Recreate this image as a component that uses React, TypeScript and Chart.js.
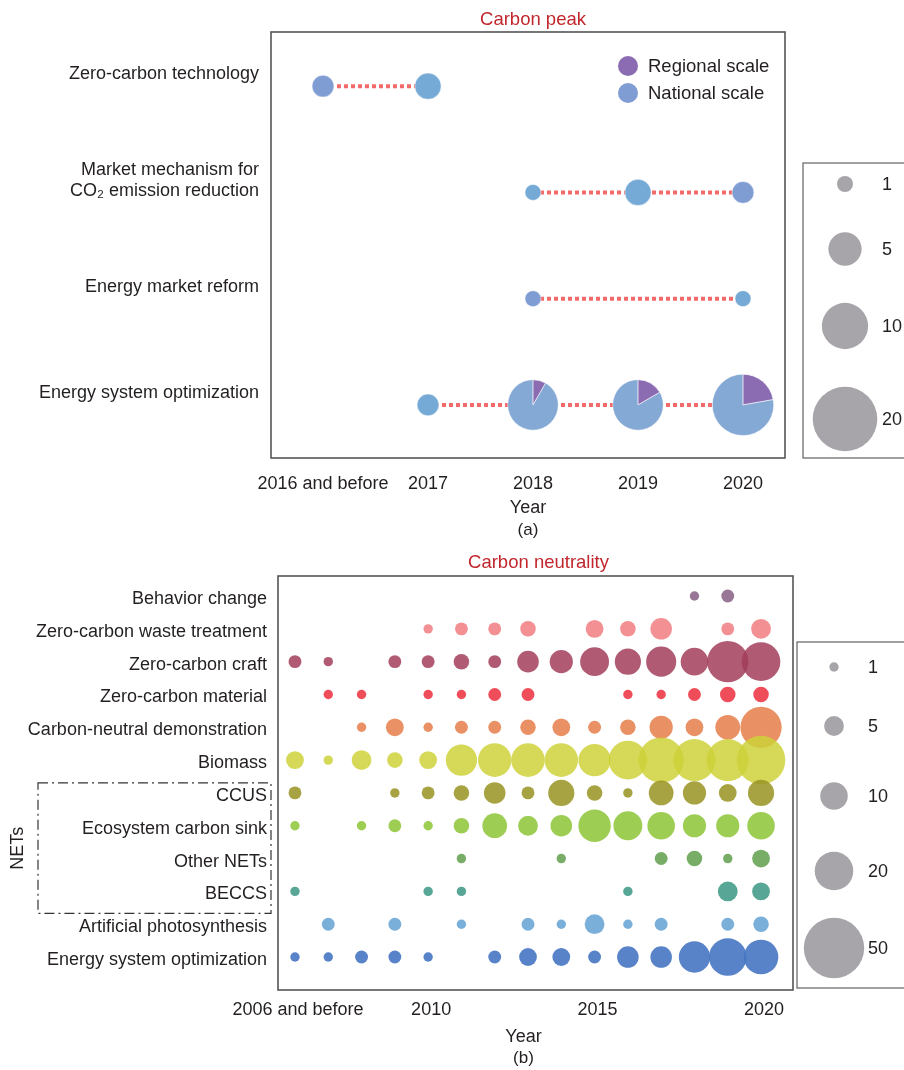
import React, { useEffect, useRef } from 'react';
import { Chart, registerables } from 'chart.js';

Chart.register(...registerables);

const FONT = '"Liberation Sans", Arial, Helvetica, sans-serif';
const TEXT = '#231f20';
const TITLE_RED = '#c1272d';

// ---------- (a) Carbon peak ----------
const PEAK_YEARS = ['2016 and before', '2017', '2018', '2019', '2020'];
const PEAK_ROWS: (string | string[])[] = [
  'Energy system optimization',
  'Energy market reform',
  ['Market mechanism for', 'CO₂ emission reduction'],
  'Zero-carbon technology',
];
// national-scale counts per year (null = none)
const PEAK_OPT_NATIONAL = [null, 2, 11, 10, 14];
const PEAK_REFORM_NATIONAL = [null, null, 1, null, 1];
const PEAK_MARKET_NATIONAL = [null, null, 1, 3, 2];
const PEAK_TECH_NATIONAL = [2, 3, null, null, null];
// regional-scale counts per year
const PEAK_OPT_REGIONAL = [0, 0, 1, 2, 4];
const PEAK_REFORM_REGIONAL = [0, 0, 0, 0, 0];
const PEAK_MARKET_REGIONAL = [0, 0, 0, 0, 0];
const PEAK_TECH_REGIONAL = [0, 0, 0, 0, 0];
const PEAK_SIZE_LEGEND = [1, 5, 10, 20];

// ---------- (b) Carbon neutrality ----------
const NEUTRAL_YEARS = ['2006 and before', '2007', '2008', '2009', '2010', '2011', '2012', '2013', '2014', '2015', '2016', '2017', '2018', '2019', '2020'];
const NEUTRAL_TICK_YEARS = ['2006 and before', '2010', '2015', '2020'];
const NEUTRAL_ROWS = [
  'Energy system optimization',
  'Artificial photosynthesis',
  'BECCS',
  'Other NETs',
  'Ecosystem carbon sink',
  'CCUS',
  'Biomass',
  'Carbon-neutral demonstration',
  'Zero-carbon material',
  'Zero-carbon craft',
  'Zero-carbon waste treatment',
  'Behavior change',
];
const N = null;
const ENERGY_OPT = [1, 1, 2, 2, 1, N, 2, 4, 4, 2, 6, 6, 13, 19, 16];
const ARTIFICIAL = [N, 2, N, 2, N, 1, N, 2, 1, 5, 1, 2, N, 2, 3];
const BECCS = [1, N, N, N, 1, 1, N, N, N, N, 1, N, N, 5, 4];
const OTHER_NETS = [N, N, N, N, N, 1, N, N, 1, N, N, 2, 3, 1, 4];
const ECOSYSTEM = [1, N, 1, 2, 1, 3, 8, 5, 6, 14, 11, 10, 7, 7, 10];
const CCUS = [2, N, N, 1, 2, 3, 6, 2, 9, 3, 1, 8, 7, 4, 9];
const BIOMASS = [4, 1, 5, 3, 4, 13, 15, 15, 15, 14, 20, 28, 24, 24, 32];
const DEMONSTRATION = [N, N, 1, 4, 1, 2, 2, 3, 4, 2, 3, 7, 4, 8, 23];
const MATERIAL = [N, 1, 1, N, 1, 1, 2, 2, N, N, 1, 1, 2, 3, 3];
const CRAFT = [2, 1, N, 2, 2, 3, 2, 6, 7, 11, 9, 12, 10, 23, 20];
const WASTE = [N, N, N, N, 1, 2, 2, 3, N, 4, 3, 6, N, 2, 5];
const BEHAVIOR = [N, N, N, N, N, N, N, N, N, N, N, N, 1, 2, N];
const NEUTRAL_SIZE_LEGEND = [1, 5, 10, 20, 50];

const NEUTRAL_VALUES = [ENERGY_OPT, ARTIFICIAL, BECCS, OTHER_NETS, ECOSYSTEM, CCUS, BIOMASS, DEMONSTRATION, MATERIAL, CRAFT, WASTE, BEHAVIOR];
const NEUTRAL_COLORS = [
  'rgba(70,118,194,0.9)',
  'rgba(108,166,214,0.9)',
  'rgba(70,156,138,0.9)',
  'rgba(104,164,86,0.9)',
  'rgba(145,198,60,0.88)',
  'rgba(156,150,40,0.88)',
  'rgba(206,210,58,0.85)',
  'rgba(230,130,80,0.88)',
  'rgba(238,58,72,0.9)',
  'rgba(162,62,90,0.85)',
  'rgba(242,132,136,0.9)',
  'rgba(140,104,138,0.9)',
];

// styles for panel (a)
const LB = '#76aad6';
const VB = '#7f9dd3';
const PIE = '#84a9d4';
const PURPLE = '#8b6bb1';
const PEAK_COLORS = [
  [LB, LB, PIE, PIE, PIE],
  [LB, LB, VB, LB, LB],
  [LB, LB, LB, LB, VB],
  [VB, LB, LB, LB, LB],
];

const peakRadius = (n: number) => 1 + 7 * Math.sqrt(n);
const neutralRadius = (n: number) => 0.5 + 4.2 * Math.sqrt(n);

const font = (size: number) => ({ family: FONT, size, weight: 'normal' as const });

function drawSizeLegend(ctx: CanvasRenderingContext2D, box: { x: number; y: number; w: number; h: number }, values: number[], radius: (n: number) => number, cx: number, cys: number[], labelX: number) {
  ctx.save();
  ctx.strokeStyle = '#6e6e6e';
  ctx.lineWidth = 1.3;
  ctx.strokeRect(box.x, box.y, box.w, box.h);
  values.forEach((v, i) => {
    ctx.beginPath();
    ctx.arc(cx, cys[i], radius(v), 0, Math.PI * 2);
    ctx.fillStyle = '#a7a5a9';
    ctx.fill();
    ctx.fillStyle = TEXT;
    ctx.font = `18px ${FONT}`;
    ctx.textAlign = 'left';
    ctx.textBaseline = 'middle';
    ctx.fillText(String(v), labelX, cys[i] + 1);
  });
  ctx.restore();
}

const peakPlugin = {
  id: 'peakDecor',
  afterDatasetsDraw(chart: any) {
    const ctx = chart.ctx as CanvasRenderingContext2D;
    chart.data.datasets.forEach((ds: any, di: number) => {
      if (!ds.regionalShare) return;
      const meta = chart.getDatasetMeta(di);
      meta.data.forEach((el: any, j: number) => {
        const f = ds.regionalShare[j];
        if (!f) return;
        const r = el.options.radius;
        ctx.save();
        ctx.beginPath();
        ctx.moveTo(el.x, el.y);
        ctx.arc(el.x, el.y, r, -Math.PI / 2, -Math.PI / 2 + Math.PI * 2 * f);
        ctx.closePath();
        ctx.fillStyle = PURPLE;
        ctx.fill();
        ctx.strokeStyle = 'rgba(255,255,255,0.8)';
        ctx.lineWidth = 1;
        ctx.stroke();
        ctx.restore();
      });
    });
  },
  afterDraw(chart: any) {
    const ctx = chart.ctx as CanvasRenderingContext2D;
    const a = chart.chartArea;
    ctx.save();
    ctx.strokeStyle = '#555';
    ctx.lineWidth = 1.6;
    ctx.strokeRect(a.left, a.top, a.right - a.left, a.bottom - a.top);
    const cx = (a.left + a.right) / 2;
    ctx.textAlign = 'center';
    ctx.textBaseline = 'middle';
    ctx.fillStyle = TITLE_RED;
    ctx.font = `18.5px ${FONT}`;
    ctx.fillText('Carbon peak', cx + 5, a.top - 12);
    ctx.fillStyle = TEXT;
    ctx.font = `18px ${FONT}`;
    ctx.fillText('Year', cx, a.bottom + 50);
    ctx.font = `17px ${FONT}`;
    ctx.fillText('(a)', cx, a.bottom + 72);
    // series legend
    const items: [string, string][] = [['Regional scale', PURPLE], ['National scale', VB]];
    items.forEach(([label, color], i) => {
      const y = a.top + 34 + i * 27;
      ctx.beginPath();
      ctx.arc(a.right - 157, y, 10, 0, Math.PI * 2);
      ctx.fillStyle = color;
      ctx.fill();
      ctx.fillStyle = TEXT;
      ctx.textAlign = 'left';
      ctx.font = `18.5px ${FONT}`;
      ctx.fillText(label, a.right - 137, y + 1);
    });
    ctx.restore();
    drawSizeLegend(ctx, { x: 803, y: 163, w: 130, h: a.bottom - 163 }, PEAK_SIZE_LEGEND, peakRadius, 845, [184, 249, 326, 419], 882);
  },
};

const neutralPlugin = {
  id: 'neutralDecor',
  afterDraw(chart: any) {
    const ctx = chart.ctx as CanvasRenderingContext2D;
    const a = chart.chartArea;
    const ys = chart.scales.y;
    ctx.save();
    ctx.strokeStyle = '#555';
    ctx.lineWidth = 1.6;
    ctx.strokeRect(a.left, a.top, a.right - a.left, a.bottom - a.top);
    const cx = (a.left + a.right) / 2;
    ctx.textAlign = 'center';
    ctx.textBaseline = 'middle';
    ctx.fillStyle = TITLE_RED;
    ctx.font = `18.5px ${FONT}`;
    ctx.fillText('Carbon neutrality', cx + 3, a.top - 13);
    ctx.fillStyle = TEXT;
    ctx.font = `18px ${FONT}`;
    ctx.fillText('Year', cx - 12, a.bottom + 47);
    ctx.font = `17px ${FONT}`;
    ctx.fillText('(b)', cx - 12, a.bottom + 68);
    // NETs group box
    const top = ys.getPixelForValue(5) - 10;
    const bottom = ys.getPixelForValue(2) + 22;
    const left = 38;
    const right = a.left - 7;
    ctx.setLineDash([10, 4, 2, 4]);
    ctx.strokeStyle = '#333';
    ctx.lineWidth = 1.2;
    ctx.strokeRect(left, top, right - left, bottom - top);
    ctx.setLineDash([]);
    ctx.save();
    ctx.translate(18, (top + bottom) / 2);
    ctx.rotate(-Math.PI / 2);
    ctx.font = `18px ${FONT}`;
    ctx.fillStyle = TEXT;
    ctx.fillText('NETs', 0, 0);
    ctx.restore();
    ctx.restore();
    const off = 545;
    drawSizeLegend(ctx, { x: 797, y: 642 - off, w: 130, h: a.bottom - (642 - off) - 2 }, NEUTRAL_SIZE_LEGEND, neutralRadius, 834, [667 - off, 726 - off, 796 - off, 871 - off, 948 - off], 868);
  },
};

function buildPeakDatasets() {
  const nat = [PEAK_OPT_NATIONAL, PEAK_REFORM_NATIONAL, PEAK_MARKET_NATIONAL, PEAK_TECH_NATIONAL];
  const reg = [PEAK_OPT_REGIONAL, PEAK_REFORM_REGIONAL, PEAK_MARKET_REGIONAL, PEAK_TECH_REGIONAL];
  const datasets: any[] = [];
  nat.forEach((row, ri) => {
    const pts: any[] = [];
    const cols: string[] = [];
    const share: number[] = [];
    row.forEach((v, j) => {
      if (v == null) return;
      const total = v + reg[ri][j];
      pts.push({ x: j, y: ri, r: peakRadius(total) });
      cols.push(PEAK_COLORS[ri][j]);
      share.push(reg[ri][j] / total);
    });
    datasets.push({
      type: 'line',
      data: pts.map((p) => ({ x: p.x, y: p.y })),
      borderColor: '#f26a6a',
      borderWidth: 4,
      borderDash: [4, 3],
      pointRadius: 0,
      fill: false,
      order: 2,
    });
    datasets.push({
      type: 'bubble',
      data: pts,
      backgroundColor: cols,
      borderColor: 'rgba(255,255,255,0.6)',
      borderWidth: 0.8,
      regionalShare: share,
      order: 1,
      clip: false,
    });
  });
  return datasets;
}

function buildNeutralDatasets() {
  return NEUTRAL_VALUES.map((row, ri) => ({
    type: 'bubble',
    data: row
      .map((v, j) => (v == null ? null : { x: j, y: ri, r: neutralRadius(v) }))
      .filter((p) => p !== null),
    backgroundColor: NEUTRAL_COLORS[ri],
    borderWidth: 0,
    clip: false,
  }));
}

export default function App() {
  const topRef = useRef<HTMLCanvasElement>(null);
  const botRef = useRef<HTMLCanvasElement>(null);

  useEffect(() => {
    const c1 = new Chart(topRef.current as HTMLCanvasElement, {
      type: 'bubble',
      data: { datasets: buildPeakDatasets() as any },
      options: {
        responsive: false,
        animation: false,
        events: [],
        layout: { padding: { top: 32, right: 119, left: 0, bottom: 0 } },
        plugins: { legend: { display: false }, tooltip: { enabled: false }, title: { display: false } },
        scales: {
          x: {
            type: 'linear',
            min: -0.495,
            max: 4.4,
            grid: { display: false, drawTicks: false },
            border: { display: false },
            afterBuildTicks: (s: any) => {
              s.ticks = PEAK_YEARS.map((_, i) => ({ value: i }));
            },
            afterFit: (s: any) => {
              s.height = 87;
            },
            ticks: {
              callback: (v: any) => PEAK_YEARS[v],
              font: font(18),
              color: TEXT,
              padding: 15,
              maxRotation: 0,
              minRotation: 0,
              autoSkip: false,
            },
          },
          y: {
            type: 'linear',
            min: -0.5,
            max: 3.51,
            grid: { display: false, drawTicks: false },
            border: { display: false },
            afterBuildTicks: (s: any) => {
              s.ticks = PEAK_ROWS.map((_, i) => ({ value: i }));
            },
            afterFit: (s: any) => {
              s.width = 271;
            },
            ticks: {
              callback: (v: any) => PEAK_ROWS[v] as any,
              font: font(18),
              color: TEXT,
              padding: 12,
              labelOffset: -12,
              autoSkip: false,
            },
          },
        },
      } as any,
      plugins: [peakPlugin as any],
    });

    const c2 = new Chart(botRef.current as HTMLCanvasElement, {
      type: 'bubble',
      data: { datasets: buildNeutralDatasets() as any },
      options: {
        responsive: false,
        animation: false,
        events: [],
        layout: { padding: { top: 31, right: 111, left: 0, bottom: 0 } },
        plugins: { legend: { display: false }, tooltip: { enabled: false }, title: { display: false } },
        scales: {
          x: {
            type: 'linear',
            min: -0.51,
            max: 14.96,
            grid: { display: false, drawTicks: false },
            border: { display: false },
            afterBuildTicks: (s: any) => {
              s.ticks = NEUTRAL_TICK_YEARS.map((t) => ({ value: NEUTRAL_YEARS.indexOf(t) }));
            },
            afterFit: (s: any) => {
              s.height = 80;
            },
            ticks: {
              callback: (v: any) => NEUTRAL_YEARS[v],
              font: font(18),
              color: TEXT,
              padding: 9,
              labelOffset: 3,
              maxRotation: 0,
              minRotation: 0,
              autoSkip: false,
            },
          },
          y: {
            type: 'linear',
            min: -1.005,
            max: 11.61,
            grid: { display: false, drawTicks: false },
            border: { display: false },
            afterBuildTicks: (s: any) => {
              s.ticks = NEUTRAL_ROWS.map((_, i) => ({ value: i }));
            },
            afterFit: (s: any) => {
              s.width = 278;
            },
            ticks: {
              callback: (v: any) => NEUTRAL_ROWS[v],
              font: font(18),
              color: TEXT,
              padding: 11,
              labelOffset: 3,
              autoSkip: false,
            },
          },
        },
      } as any,
      plugins: [neutralPlugin as any],
    });

    return () => {
      c1.destroy();
      c2.destroy();
    };
  }, []);

  return (
    <div style={{ position: 'absolute', left: 0, top: 0, width: 904, height: 1070, background: '#fff' }}>
      <canvas ref={topRef} width={904} height={545} style={{ position: 'absolute', left: 0, top: 0, width: 904, height: 545 }} />
      <canvas ref={botRef} width={904} height={525} style={{ position: 'absolute', left: 0, top: 545, width: 904, height: 525 }} />
    </div>
  );
}
